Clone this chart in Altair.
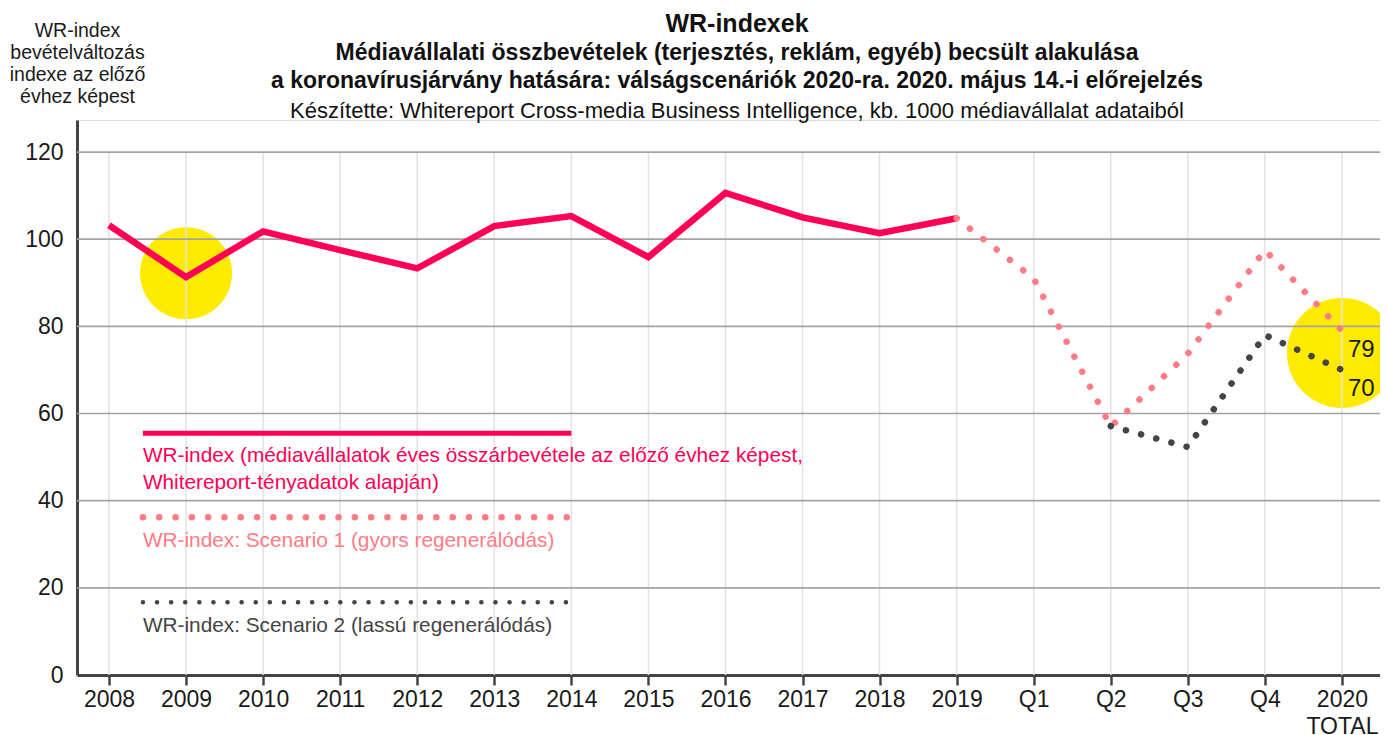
import json
import altair as alt
import pandas as pd

# ---------------- data ----------------
categories = ["2008", "2009", "2010", "2011", "2012", "2013", "2014", "2015", "2016",
              "2017", "2018", "2019", "Q1", "Q2", "Q3", "Q4", "2020"]
category_second_line = {"2020": "TOTAL"}

wr_years = ["2008", "2009", "2010", "2011", "2012", "2013", "2014", "2015", "2016",
            "2017", "2018", "2019"]
wr_index = [103.2, 91.3, 101.8, 97.5, 93.3, 103.0, 105.3, 95.9, 110.6, 105.0, 101.4, 104.8]

scenario1_cats = ["2019", "Q1", "Q2", "Q3", "Q4", "2020"]
scenario1 = [104.8, 91.0, 57.0, 73.7, 97.5, 79.0]

scenario2_cats = ["Q2", "Q3", "Q4", "2020"]
scenario2 = [57.1, 52.3, 78.0, 70.0]

highlight_cats = ["2009", "2020"]
highlight_y = [92.2, 73.9]
highlight_radius = [46, 55]

y_ticks = [0, 20, 40, 60, 80, 100, 120]

legend_labels = [
    ["WR-index (médiavállalatok éves összárbevétele az előző évhez képest,",
     "Whitereport-tényadatok alapján)"],
    ["WR-index: Scenario 1 (gyors regenerálódás)"],
    ["WR-index: Scenario 2 (lassú regenerálódás)"],
]
legend_line_y = [55.5, 36.2, 16.7]
legend_text_y = [48.9, 29.4, 9.9]
legend_x_from, legend_x_to = 0.44, 6.0

title_main = "WR-indexek"
title_lines = ["Médiavállalati összbevételek (terjesztés, reklám, egyéb) becsült alakulása",
               "a koronavírusjárvány hatására: válságscenáriók 2020-ra. 2020. május 14.-i előrejelzés"]
credit = "Készítette: Whitereport Cross-media Business Intelligence, kb. 1000 médiavállalat adataiból"
y_title = ["WR-index", "bevételváltozás", "indexe az előző", "évhez képest"]

# ---------------- styling ----------------
RED = "#FF0055"
PINK = "#FF7B86"
DARK = "#444444"
YELLOW = "#FFEB00"
TXT = "#1a1a1a"
FONT = "Liberation Sans"
W, H = 1303, 555
TITLE_CX = 660

idx = {c: i for i, c in enumerate(categories)}

main_df = pd.DataFrame({"x": [idx[c] for c in wr_years], "y": wr_index})
s1_df = pd.DataFrame({"x": [idx[c] for c in scenario1_cats], "y": scenario1})
s2_df = pd.DataFrame({"x": [idx[c] for c in scenario2_cats], "y": scenario2})
hl_df = pd.DataFrame({"x": [idx[c] for c in highlight_cats], "y": highlight_y,
                      "s": [(2 * r) ** 2 for r in highlight_radius]})
vgrid_df = pd.DataFrame({"x": list(range(len(categories))), "y": [0] * len(categories),
                         "y2": [y_ticks[-1]] * len(categories)})
hgrid_df = pd.DataFrame({"y": y_ticks[1:]})
end_df = pd.DataFrame({"x": [idx["2020"], idx["2020"]],
                       "y": [scenario1[-1], scenario2[-1]],
                       "t": [f"{scenario1[-1]:.0f}", f"{scenario2[-1]:.0f}"]})


def leg_line_df(i):
    return pd.DataFrame({"x": [legend_x_from], "x2": [legend_x_to], "y": [legend_line_y[i]]})


def leg_text_df(i):
    return pd.DataFrame({"x": [legend_x_from], "y": [legend_text_y[i]], "t": [legend_labels[i]]})


label_arr = [[c, category_second_line[c]] if c in category_second_line else c for c in categories]
label_expr = "datum.value >= 0 && datum.value < %d ? %s[datum.value] : ''" % (
    len(categories), json.dumps(label_arr, ensure_ascii=False))

xs = alt.Scale(domain=[-0.415, 16.494], nice=False, zero=False)
ys = alt.Scale(domain=[0, 127.35], nice=False, zero=True)

x_axis = alt.Axis(values=list(range(len(categories))), labelExpr=label_expr, title=None,
                  grid=False, domainColor=DARK, domainWidth=3, tickColor=DARK, tickWidth=2.5,
                  tickSize=10, labelFontSize=23, labelColor=TXT, labelPadding=3,
                  labelFlush=False, labelOverlap=False, labelLineHeight=27, labelFont=FONT)
y_axis = alt.Axis(values=y_ticks, title=y_title, titleAngle=0, titleAlign="center",
                  titleBaseline="top", titleX=0, titleY=-99, titleFontSize=19.5,
                  titleFontWeight="normal", titleLineHeight=22, titleColor=TXT,
                  titleFont=FONT, grid=False, ticks=False, domainColor=DARK, domainWidth=3,
                  labelFontSize=23, labelColor=TXT, labelPadding=14, labelFont=FONT)

X = alt.X("x:Q", scale=xs, axis=x_axis)
Y = alt.Y("y:Q", scale=ys, axis=y_axis)
Xn = alt.X("x:Q", scale=xs)
Yn = alt.Y("y:Q", scale=ys)

circles = alt.Chart(hl_df).mark_circle(color=YELLOW, opacity=1).encode(
    x=X, y=Y, size=alt.Size("s:Q", scale=None, legend=None))

vgrid = alt.Chart(vgrid_df).mark_rule(color="#e2e2e2", strokeWidth=1.5).encode(
    x=Xn, y=Yn, y2="y2:Q")

hgrid = alt.Chart(hgrid_df).mark_rule(color="#a3a3a3", strokeWidth=1.7).encode(
    y=Yn, x=alt.value(0), x2=alt.value(W))

leg_red = alt.Chart(leg_line_df(0)).mark_rule(color=RED, strokeWidth=5).encode(
    x=Xn, x2="x2:Q", y=Yn)
leg_pink = alt.Chart(leg_line_df(1)).mark_rule(
    color=PINK, strokeWidth=6.5, strokeDash=[0.1, 16.2], strokeCap="round").encode(
    x=Xn, x2="x2:Q", y=Yn)
leg_dark = alt.Chart(leg_line_df(2)).mark_rule(
    color=DARK, strokeWidth=4.5, strokeDash=[0.1, 14], strokeCap="round").encode(
    x=Xn, x2="x2:Q", y=Yn)

leg_texts = []
for i, col in enumerate([RED, PINK, DARK]):
    leg_texts.append(alt.Chart(leg_text_df(i)).mark_text(
        align="left", baseline="alphabetic", fontSize=20.8, font=FONT, color=col,
        lineHeight=26.7).encode(x=Xn, y=Yn, text="t"))

main_line = alt.Chart(main_df).mark_line(color=RED, strokeWidth=6.5, strokeJoin="miter").encode(
    x=Xn, y=Yn)
s1_line = alt.Chart(s1_df).mark_line(
    color=PINK, strokeWidth=6.5, strokeDash=[0.1, 16.8], strokeCap="round").encode(x=Xn, y=Yn)
s2_line = alt.Chart(s2_df).mark_line(
    color=DARK, strokeWidth=6.5, strokeDash=[0.1, 15.6], strokeCap="round").encode(x=Xn, y=Yn)

end_labels = alt.Chart(end_df).mark_text(
    align="left", baseline="alphabetic", dx=6, dy=26, fontSize=24, font=FONT,
    color=TXT).encode(x=Xn, y=Yn, text="t:N")


def header(text, y, size, weight):
    return alt.Chart(pd.DataFrame({"t": [text]})).mark_text(
        align="center", baseline="alphabetic", fontSize=size, fontWeight=weight, font=FONT,
        color="#111111").encode(x=alt.value(TITLE_CX), y=alt.value(y), text="t:N")


headers = [
    header(title_main, -88.5, 25, "bold"),
    header(title_lines[0], -60, 23, "bold"),
    header(title_lines[1], -32, 23, "bold"),
    header(credit, -2, 22, "normal"),
]

chart = alt.layer(
    circles, vgrid, hgrid, leg_red, leg_pink, leg_dark, *leg_texts,
    main_line, s1_line, s2_line, end_labels, *headers
).properties(
    width=W, height=H,
    autosize=alt.AutoSizeParams(type="none"),
    padding={"left": 69, "top": 112, "right": 0, "bottom": 60},
).configure_view(stroke=None).configure(background="white", font=FONT)

chart.save("out.html", embed_options={"renderer": "svg", "actions": False})
